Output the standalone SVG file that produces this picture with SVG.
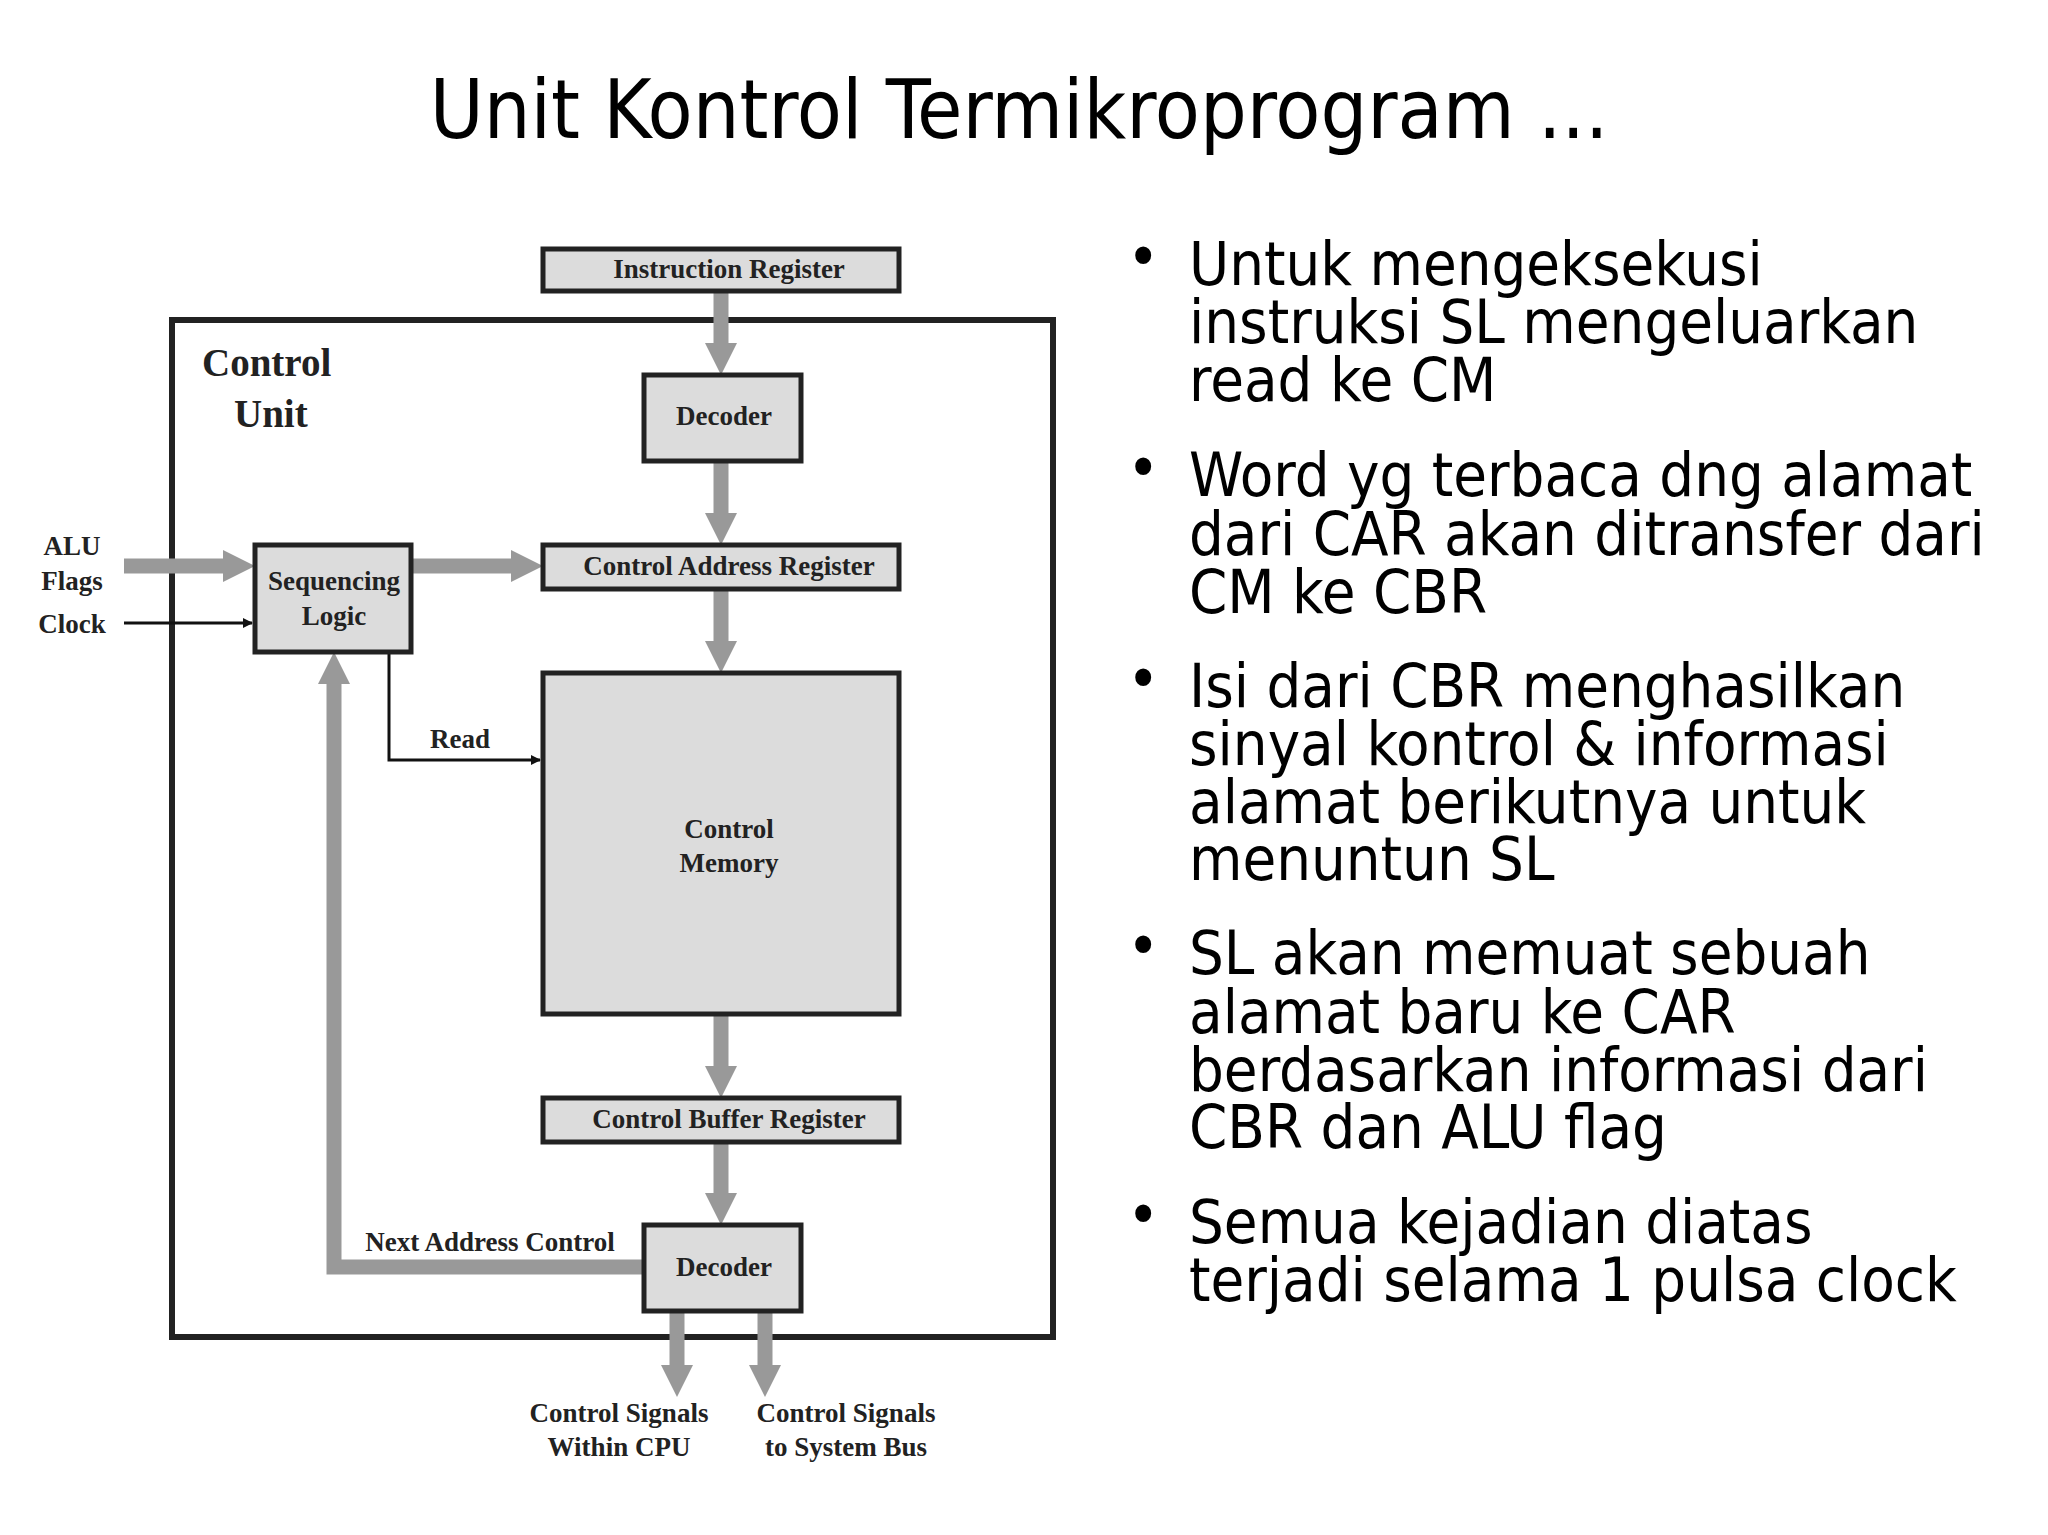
<svg xmlns="http://www.w3.org/2000/svg" width="2048" height="1535" viewBox="0 0 2048 1535">
<style>
.box{fill:#dcdcdc;stroke:#222;stroke-width:5}
.lbl{font-family:"Liberation Serif",serif;font-weight:bold;font-size:27px;fill:#222;text-anchor:middle}
.gl{stroke:#999;stroke-width:15;fill:none}
.gh{fill:#999}
.tl{stroke:#111;stroke-width:3;fill:none}
.bt{font-family:"DejaVu Sans Condensed","DejaVu Sans",sans-serif;font-stretch:condensed;font-size:61px;fill:#000}
</style>
<defs>
<marker id="ah" markerWidth="10" markerHeight="10" refX="9" refY="5" orient="auto" markerUnits="userSpaceOnUse"><path d="M0,0L10,5L0,10z" fill="#111"/></marker>
</defs>
<rect width="2048" height="1535" fill="#fff"/>
<text x="1019" y="138" font-family="DejaVu Sans Condensed,DejaVu Sans,sans-serif" font-stretch="condensed" font-size="82" text-anchor="middle">Unit Kontrol Termikroprogram ...</text>
<rect x="172" y="320" width="881" height="1017" fill="none" stroke="#222" stroke-width="6"/>
<g id="connectors">
<path class="gl" d="M721 291V345M721 461V515M721 589V643M721 1014V1068M721 1142V1195M677 1311V1367M765 1311V1367M124 566H225M411 566H513M644 1267H334V682"/>
<path class="gh" d="M705 343H737L721 375zM705 513H737L721 545zM705 641H737L721 673zM705 1066H737L721 1098zM705 1193H737L721 1225zM661 1365H693L677 1397zM749 1365H781L765 1397zM223 550V582L255 566zM511 550V582L543 566zM318 684H350L334 652z"/>
<path class="tl" d="M124 623H252" marker-end="url(#ah)"/>
<path class="tl" d="M389 652V760H540" marker-end="url(#ah)"/>
</g>
<g id="ir"><rect class="box" x="543" y="249" width="356" height="42"/><text class="lbl" x="729" y="278">Instruction Register</text></g>
<g id="dec1"><rect class="box" x="644" y="375" width="157" height="86"/><text class="lbl" x="724" y="425">Decoder</text></g>
<g id="car"><rect class="box" x="543" y="545" width="356" height="44"/><text class="lbl" x="729" y="575">Control Address Register</text></g>
<g id="sl"><rect class="box" x="255" y="545" width="156" height="107"/><text class="lbl" x="334" y="590">Sequencing</text><text class="lbl" x="334" y="625">Logic</text></g>
<g id="cm"><rect class="box" x="543" y="673" width="356" height="341"/><text class="lbl" x="729" y="838">Control</text><text class="lbl" x="729" y="872">Memory</text></g>
<g id="cbr"><rect class="box" x="543" y="1098" width="356" height="44"/><text class="lbl" x="729" y="1128">Control Buffer Register</text></g>
<g id="dec2"><rect class="box" x="644" y="1225" width="157" height="86"/><text class="lbl" x="724" y="1276">Decoder</text></g>
<g id="labels">
<text class="lbl" x="202" y="376" style="font-size:39px;text-anchor:start">Control</text>
<text class="lbl" x="234" y="427" style="font-size:39px;text-anchor:start">Unit</text>
<text class="lbl" x="72" y="555">ALU</text>
<text class="lbl" x="72" y="590">Flags</text>
<text class="lbl" x="72" y="633">Clock</text>
<text class="lbl" x="460" y="748">Read</text>
<text class="lbl" x="490" y="1251">Next Address Control</text>
<text class="lbl" x="619" y="1422">Control Signals</text>
<text class="lbl" x="619" y="1456">Within CPU</text>
<text class="lbl" x="846" y="1422">Control Signals</text>
<text class="lbl" x="846" y="1456">to System Bus</text>
</g>
<g id="bullets" class="bt">
<text class="bt" x="1127" y="278">•</text><text class="bt" x="1189" y="285">Untuk mengeksekusi</text><text class="bt" x="1189" y="343">instruksi SL mengeluarkan</text><text class="bt" x="1189" y="401">read ke CM</text>
<text class="bt" x="1127" y="489">•</text><text class="bt" x="1189" y="496">Word yg terbaca dng alamat</text><text class="bt" x="1189" y="555">dari CAR akan ditransfer dari</text><text class="bt" x="1189" y="613">CM ke CBR</text>
<text class="bt" x="1127" y="700">•</text><text class="bt" x="1189" y="707">Isi dari CBR menghasilkan</text><text class="bt" x="1189" y="765">sinyal kontrol &amp; informasi</text><text class="bt" x="1189" y="823">alamat berikutnya untuk</text><text class="bt" x="1189" y="880">menuntun SL</text>
<text class="bt" x="1127" y="967">•</text><text class="bt" x="1189" y="974">SL akan memuat sebuah</text><text class="bt" x="1189" y="1033">alamat baru ke CAR</text><text class="bt" x="1189" y="1091">berdasarkan informasi dari</text><text class="bt" x="1189" y="1148">CBR dan ALU flag</text>
<text class="bt" x="1127" y="1236">•</text><text class="bt" x="1189" y="1243">Semua kejadian diatas</text><text class="bt" x="1189" y="1301">terjadi selama 1 pulsa clock</text>
</g>
</svg>
